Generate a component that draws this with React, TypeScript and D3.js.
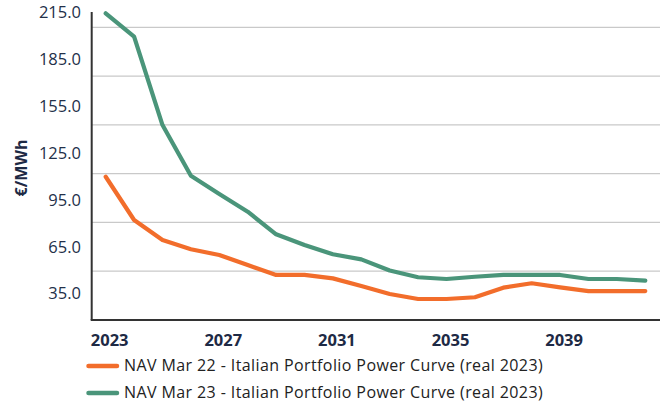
import * as d3 from 'd3'

const years = [2023, 2024, 2025, 2026, 2027, 2028, 2029, 2030, 2031, 2032, 2033, 2034, 2035, 2036, 2037, 2038, 2039, 2040, 2041, 2042]
const navMar22 = [123.1, 96.5, 84.2, 78.5, 75, 68.8, 62.7, 62.7, 60.6, 55.9, 51, 47.9, 47.9, 49, 54.9, 57.6, 55.1, 52.8, 52.8, 52.8]
const navMar23 = [223.6, 209.2, 154.9, 123.7, 112.5, 101.6, 87.7, 81.1, 75.4, 72.3, 65.4, 61.3, 60.2, 61.6, 62.7, 62.7, 62.7, 60.2, 60.2, 59.2]
const yTicks = [35, 65, 95, 125, 155, 185, 215]
const xTicks = [2023, 2027, 2031, 2035, 2039]
const seriesNames = [
    'NAV Mar 22 - Italian Portfolio Power Curve (real 2023)',
    'NAV Mar 23 - Italian Portfolio Power Curve (real 2023)',
]
const colors = ['#F26D2B', '#4A957A']

function App() {
    const x = d3.scaleLinear().domain([2023, 2042]).range([105.7, 645.3])
    const y = d3.scaleLinear().domain([35, 215]).range([320, 27.3])
    // the tick labels of the original sit a little off their grid lines
    const yLabel = d3.scaleLinear().domain([35, 215]).range([295, 13.5])

    const line = d3
        .line<number>()
        .x((d, i) => x(years[i]))
        .y((d) => y(d))

    const axisLeft = 91.7
    const axisRight = 660
    const plotTop = 12

    return (
        <svg
            width={667}
            height={405}
            style={{ position: 'absolute', left: 0, top: 0, background: '#fff' }}
            fontFamily="'Open Sans', sans-serif"
        >
            {yTicks.slice(1).map((t) => (
                <line key={t} x1={axisLeft} x2={axisRight} y1={y(t)} y2={y(t)} stroke="#C9C9C9" strokeWidth={1.3} />
            ))}

            {[navMar22, navMar23].map((s, i) => (
                <path
                    key={i}
                    d={line(s) || ''}
                    fill="none"
                    stroke={colors[i]}
                    strokeWidth={4.2}
                    strokeLinejoin="round"
                    strokeLinecap="round"
                />
            ))}

            <line x1={axisLeft} x2={axisLeft} y1={plotTop} y2={y(35)} stroke="#333" strokeWidth={2} />
            <line x1={axisLeft - 1} x2={axisRight} y1={y(35)} y2={y(35)} stroke="#333" strokeWidth={2} />

            {yTicks.map((t) => (
                <text key={t} x={81} y={yLabel(t)} textAnchor="end" dominantBaseline="middle" fontSize={16.5} fill="#233049">
                    {t.toFixed(1)}
                </text>
            ))}

            {xTicks.map((t) => (
                <text key={t} x={x(t) + 4} y={346} textAnchor="middle" fontSize={16.5} fontWeight="bold" fill="#1E2A45">
                    {t}
                </text>
            ))}

            <text
                transform="translate(27, 168) rotate(-90)"
                textAnchor="middle"
                fontSize={16}
                fontWeight="bold"
                fill="#1E2A45"
            >
                €/MWh
            </text>

            {seriesNames.map((name, i) => (
                <g key={name} transform={`translate(0, ${366 + i * 27})`}>
                    <line x1={88.5} x2={117} y1={0} y2={0} stroke={colors[i]} strokeWidth={4.5} strokeLinecap="round" />
                    <text x={124} y={0.5} dominantBaseline="middle" fontSize={16} letterSpacing={0.4} fill="#222">
                        {name}
                    </text>
                </g>
            ))}
        </svg>
    )
}

export default App
